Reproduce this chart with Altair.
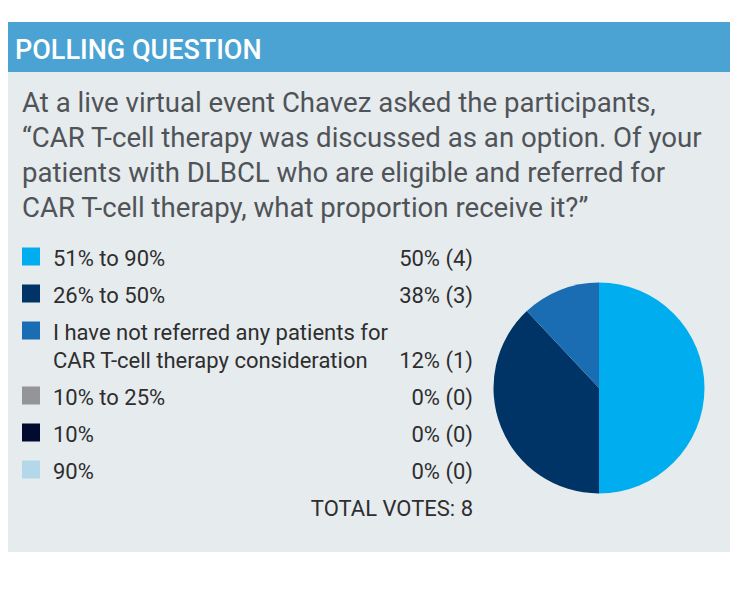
import altair as alt
import pandas as pd

# ---- data ----
labels = [
    "51% to 90%",
    "26% to 50%",
    "I have not referred any patients for\nCAR T-cell therapy consideration",
    "10% to 25%",
    "10%",
    "90%",
]
percents = [50, 38, 12, 0, 0, 0]
votes = [4, 3, 1, 0, 0, 0]
colors = ["#00aeef", "#003466", "#1b6db3", "#939598", "#020b2f", "#b3d8ea"]
title_text = "POLLING QUESTION"
question_lines = [
    "At a live virtual event Chavez asked the participants,",
    "\u201cCAR T-cell therapy was discussed as an option. Of your",
    "patients with DLBCL who are eligible and referred for",
    "CAR T-cell therapy, what proportion receive it?\u201d",
]
total_votes = 8

# ---- layout helpers (row slots, not data) ----
EXTRA = 28 / 37.0
rows = []
slot = 0.0
for i, (lab, p, v) in enumerate(zip(labels, percents, votes)):
    nlines = lab.count("\n") + 1
    rows.append({
        "idx": i,
        "label": lab,
        "pct": p,
        "votes": v,
        "value_text": f"{p}% ({v})",
        "slot": slot,
        "value_slot": slot + (nlines - 1) * EXTRA,
    })
    slot += 1 + (nlines - 1) * EXTRA
df = pd.DataFrame(rows)
total_df = pd.DataFrame([{"slot": slot, "text": f"TOTAL VOTES: {total_votes}"}])

W, H = 722, 582
yscale = alt.Scale(domain=[0, 7], range=[258, 258 + 7 * 37])
cscale = alt.Scale(domain=labels, range=colors)

one = pd.DataFrame([{"a": 1}])

header = alt.Chart(one).mark_rect(color="#4ba3d3").encode(
    x=alt.value(0), x2=alt.value(W), y=alt.value(14), y2=alt.value(64)
)
body = alt.Chart(one).mark_rect(color="#e6ebee").encode(
    x=alt.value(0), x2=alt.value(W), y=alt.value(64), y2=alt.value(544)
)
title = alt.Chart(one).mark_text(
    text=title_text, font="Roboto", fontSize=27,
    fontWeight=500, color="white", align="left", baseline="alphabetic"
).encode(x=alt.value(7), y=alt.value(50.5))

question = alt.Chart(one).mark_text(
    text=question_lines, font="Roboto", fontSize=27.6, lineHeight=35,
    color="#505358", align="left", baseline="alphabetic"
).encode(x=alt.value(14), y=alt.value(104))

squares = alt.Chart(df).mark_square(size=324, opacity=1, yOffset=-9.5).encode(
    x=alt.value(23),
    y=alt.Y("slot:Q", scale=yscale, axis=None),
    color=alt.Color("label:N", scale=cscale, legend=None),
)
label_text = alt.Chart(df).transform_calculate(
    lines="split(datum.label, '\\n')"
).mark_text(
    font="Roboto", fontSize=22, lineHeight=28, color="#2e2e2e",
    align="left", baseline="alphabetic"
).encode(
    x=alt.value(45),
    y=alt.Y("slot:Q", scale=yscale, axis=None),
    text="lines:N",
)
value_text = alt.Chart(df).mark_text(
    font="Roboto", fontSize=22, color="#2e2e2e", align="right", baseline="alphabetic"
).encode(
    x=alt.value(465),
    y=alt.Y("value_slot:Q", scale=yscale, axis=None),
    text="value_text:N",
)
total_text = alt.Chart(total_df).mark_text(
    font="Roboto", fontSize=22, color="#2e2e2e", align="right", baseline="alphabetic"
).encode(
    x=alt.value(465),
    y=alt.Y("slot:Q", scale=yscale, axis=None),
    text="text:N",
)
pie = alt.Chart(df).mark_arc(outerRadius=105.5).encode(
    x=alt.value(591),
    y=alt.value(380),
    theta=alt.Theta("pct:Q", stack=True),
    order=alt.Order("idx:Q"),
    color=alt.Color("label:N", scale=cscale, legend=None),
)

chart = alt.layer(
    header, body, title, question, squares, label_text, value_text, total_text, pie
).resolve_scale(y="shared").properties(
    width=W, height=H, padding=0, autosize=alt.AutoSizeParams(type="none"),
    background="white",
).configure_view(stroke=None)

chart.save("out.html", embed_options={"renderer": "svg", "actions": False})
